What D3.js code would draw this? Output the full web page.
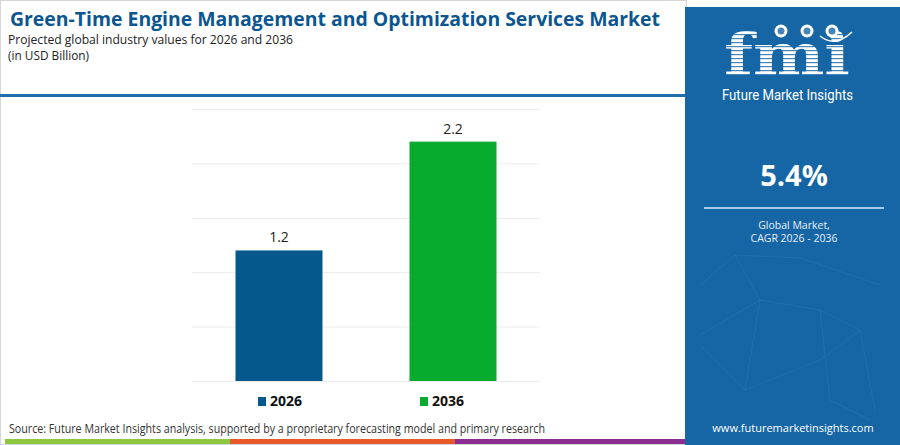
<!DOCTYPE html>
<html>
<head>
<meta charset="utf-8">
<script src="https://cdn.jsdelivr.net/npm/d3@7"></script>
<style>
  html, body { margin: 0; padding: 0; background: #fff; }
  svg { display: block; }
</style>
</head>
<body>
<svg id="chart" width="900" height="445"></svg>
<script>
// ---- data ----
const categories = ["2026", "2036"];
const values = [1.2, 2.2];
const barColors = ["#04588c", "#07ab2e"];
const yTicks = [0, 0.5, 1, 1.5, 2, 2.5];
const titleText = "Green-Time Engine Management and Optimization Services Market";
const subtitle1 = "Projected global industry values for 2026 and 2036";
const subtitle2 = "(in USD Billion)";
const cagrText = "5.4%";
const cagrLabel = ["Global Market,", "CAGR 2026 - 2036"];
const sourceText = "Source: Future Market Insights analysis, supported by a proprietary forecasting model and primary research";
const urlText = "www.futuremarketinsights.com";

const svg = d3.select("#chart");
const W = 900, H = 445;

// frame
svg.append("rect").attr("x", 0.5).attr("y", 0.5).attr("width", 686).attr("height", H - 1)
  .attr("fill", "none").attr("stroke", "#d6d6d6").attr("stroke-width", 1);

// title
svg.append("text").attr("x", 10).attr("y", 26)
  .attr("font-family", "'Open Sans', sans-serif").attr("font-weight", 700)
  .attr("font-size", 20).attr("fill", "#0b5690")
  .attr("textLength", 650).attr("lengthAdjust", "spacingAndGlyphs")
  .text(titleText);
svg.append("text").attr("x", 8).attr("y", 44)
  .attr("font-family", "'Open Sans', sans-serif").attr("font-size", 12.5)
  .attr("fill", "#222").attr("textLength", 285).attr("lengthAdjust", "spacingAndGlyphs")
  .text(subtitle1);
svg.append("text").attr("x", 8).attr("y", 60)
  .attr("font-family", "'Open Sans', sans-serif").attr("font-size", 12.5)
  .attr("fill", "#222").attr("textLength", 81).attr("lengthAdjust", "spacingAndGlyphs")
  .text(subtitle2);

// blue rule under title
svg.append("rect").attr("x", 0).attr("y", 94).attr("width", 690).attr("height", 3).attr("fill", "#1f6fad");

// chart
const x = d3.scaleBand().domain(categories).range([192, 540]).paddingInner(0.5).paddingOuter(0.25);
const y = d3.scaleLinear().domain([0, 2.5]).range([381, 109]);

const grid = svg.append("g").attr("transform", "translate(192,0)")
  .call(d3.axisLeft(y).tickValues(yTicks).tickSize(-348).tickFormat(""));
grid.select(".domain").remove();
grid.selectAll("line").attr("stroke", "#ececec").attr("stroke-width", 1);

svg.append("g").selectAll("rect").data(values).join("rect")
  .attr("x", (d, i) => x(categories[i]))
  .attr("y", d => y(d))
  .attr("width", x.bandwidth())
  .attr("height", d => y(0) - y(d))
  .attr("fill", (d, i) => barColors[i]);

svg.append("g").selectAll("text").data(values).join("text")
  .attr("x", (d, i) => x(categories[i]) + x.bandwidth() / 2)
  .attr("y", d => y(d) - 8)
  .attr("text-anchor", "middle")
  .attr("font-family", "'Open Sans', sans-serif").attr("font-size", 14)
  .attr("fill", "#222")
  .text(d => d.toFixed(1));

// legend
const legendX = [258, 420];
const lg = svg.append("g").selectAll("g").data(categories).join("g")
  .attr("transform", (d, i) => `translate(${legendX[i]},0)`);
lg.append("rect").attr("x", 0).attr("y", 397).attr("width", 8).attr("height", 9)
  .attr("fill", (d, i) => barColors[i]);
lg.append("text").attr("x", 12).attr("y", 406)
  .attr("font-family", "'Open Sans', sans-serif").attr("font-weight", 700).attr("font-size", 14)
  .attr("fill", "#111").text(d => d);

// source
svg.append("text").attr("x", 9).attr("y", 433)
  .attr("font-family", "'Open Sans', sans-serif").attr("font-size", 12)
  .attr("fill", "#333").attr("textLength", 536).attr("lengthAdjust", "spacingAndGlyphs")
  .text(sourceText);

// bottom colored strip
const strip = [["#8dc63f", 5, 230], ["#e8582a", 230, 455], ["#8b2c8f", 455, 690]];
svg.append("g").selectAll("rect").data(strip).join("rect")
  .attr("x", d => d[1]).attr("y", 439).attr("width", d => d[2] - d[1]).attr("height", 5)
  .attr("fill", d => d[0]);

// right panel
const panel = svg.append("g");
panel.append("rect").attr("x", 685).attr("y", 7).attr("width", 215).attr("height", 438).attr("fill", "#1666a6");

// faint network decoration
const net = [[700,285,735,255],[735,255,800,258],[800,258,880,285],[735,255,760,300],[760,300,820,310],[820,310,860,330],
  [700,335,760,300],[760,300,745,390],[745,390,820,360],[820,360,860,330],[860,330,875,410],[820,310,830,400],[830,400,870,420],[700,345,745,390]];
panel.append("g").selectAll("line").data(net).join("line")
  .attr("x1", d => d[0]).attr("y1", d => d[1]).attr("x2", d => d[2]).attr("y2", d => d[3])
  .attr("stroke", "#4d8cc0").attr("stroke-opacity", 0.22).attr("stroke-width", 1);

// logo
const logo = panel.append("g");
logo.append("text").attr("x", 787).attr("y", 75).attr("text-anchor", "middle")
  .attr("font-family", "'DejaVu Serif', serif").attr("font-weight", 700).attr("font-size", 58)
  .attr("fill", "#fff").attr("textLength", 126).attr("lengthAdjust", "spacingAndGlyphs").text("fmi");
// stripes over letters
const stripes = d3.range(30, 76, 4);
logo.append("g").selectAll("rect").data(stripes).join("rect")
  .attr("x", 718).attr("y", d => d).attr("width", 135).attr("height", 1.2).attr("fill", "#1666a6").attr("opacity", 0.8);
// globes
const globes = [[781, 31], [807, 31], [832, 31]];
logo.append("g").selectAll("circle").data(globes).join("circle")
  .attr("cx", d => d[0]).attr("cy", d => d[1]).attr("r", 6.5).attr("fill", "#fff");
logo.append("g").selectAll("circle").data(globes).join("circle")
  .attr("cx", d => d[0]).attr("cy", d => d[1]).attr("r", 3.5).attr("fill", "#1666a6").attr("opacity", 0.8);
logo.append("path").attr("d", "M820,36 Q835,48 852,32").attr("fill", "none").attr("stroke", "#fff").attr("stroke-width", 1.5);
logo.append("text").attr("x", 722).attr("y", 100)
  .attr("font-family", "'Liberation Sans Narrow', 'Roboto', sans-serif").attr("font-size", 14)
  .attr("fill", "#fff").attr("textLength", 131).attr("lengthAdjust", "spacingAndGlyphs").text("Future Market Insights");

// CAGR
panel.append("text").attr("x", 794).attr("y", 186).attr("text-anchor", "middle")
  .attr("font-family", "'Open Sans', sans-serif").attr("font-weight", 700).attr("font-size", 29)
  .attr("fill", "#fff").text(cagrText);
panel.append("rect").attr("x", 704).attr("y", 207).attr("width", 180).attr("height", 2).attr("fill", "#a9cbe8");
panel.append("g").selectAll("text").data(cagrLabel).join("text")
  .attr("x", 794).attr("y", (d, i) => 229 + i * 13)
  .attr("text-anchor", "middle")
  .attr("font-family", "'Open Sans', sans-serif").attr("font-size", 10.5)
  .attr("fill", "#e6eef6").text(d => d);
panel.append("text").attr("x", 793).attr("y", 432).attr("text-anchor", "middle")
  .attr("font-family", "'Open Sans', sans-serif").attr("font-size", 11)
  .attr("fill", "#fff").text(urlText);
</script>
</body>
</html>
